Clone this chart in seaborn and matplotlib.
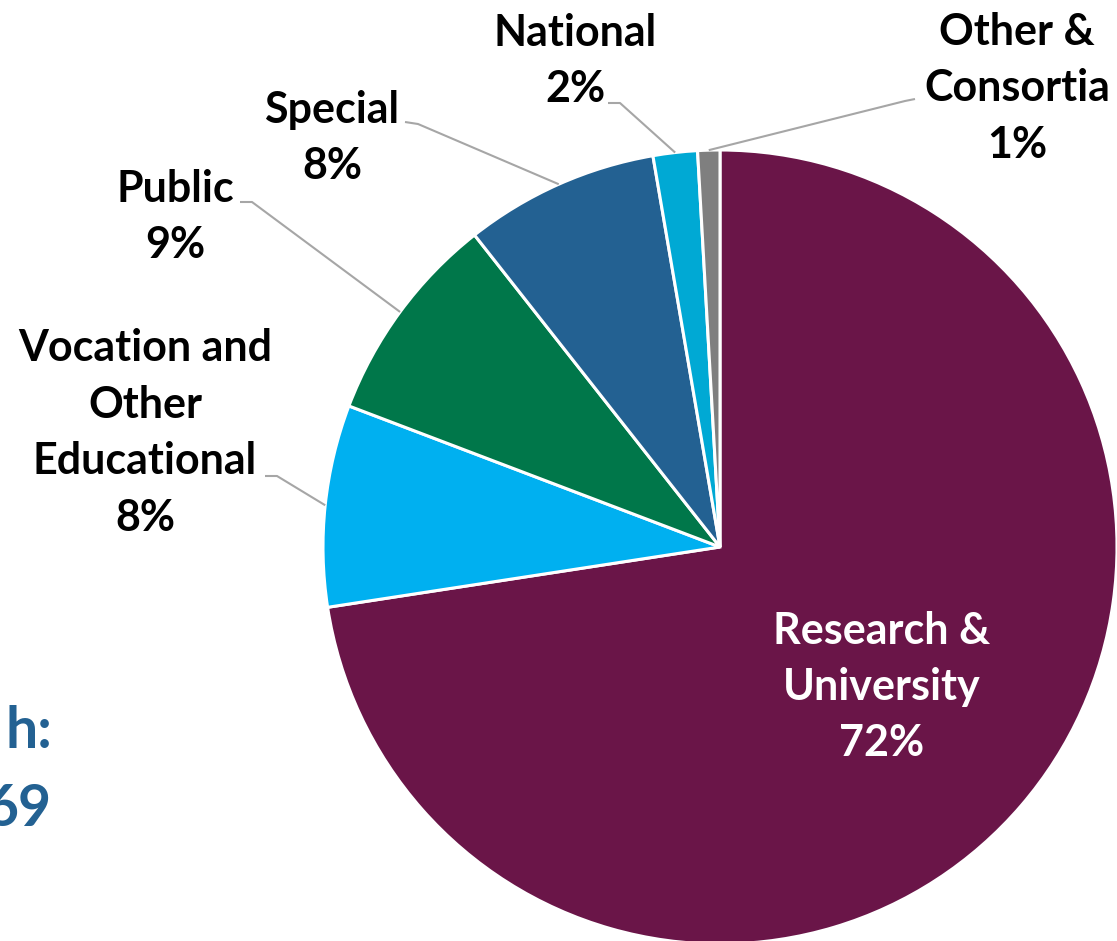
import numpy as np
import matplotlib
matplotlib.use("Agg")
import matplotlib.pyplot as plt
import seaborn as sns

sns.set_theme(style="white")
plt.rcParams["font.family"] = ["Lato", "DejaVu Sans"]

categories = ["Research &\nUniversity", "Vocation and\nOther\nEducational", "Public", "Special", "National", "Other &\nConsortia"]
shares = [72.5, 8.2, 8.6, 7.9, 1.8, 0.9]
pct_labels = ["72%", "8%", "9%", "8%", "2%", "1%"]
colors = ["#6A1548", "#00B0F0", "#00774A", "#236192", "#00A9D4", "#7F7F7F"]

W, H = 1117, 941
cx, cy, R = 720, 547, 397

fig = plt.figure(figsize=(W / 100, H / 100), dpi=100)
ax = fig.add_axes([0, 0, 1, 1])

wedges, _ = ax.pie(shares, colors=colors, startangle=90, counterclock=False,
                   radius=1.0, wedgeprops=dict(edgecolor="white", linewidth=2.2))

ax.set_aspect("auto")
ax.set_xlim(-cx / R, (W - cx) / R)
ax.set_ylim(-(H - cy) / R, cy / R)
ax.axis("off")


def px(x, y):
    return (x - cx) / R, (cy - y) / R


# label centre, leader elbow, leader end (pixels)
label_pos = [(882, 687), (145, 433), (175, 217), (332, 138), (575, 61), (1017, 88)]
leaders = [None, ((277, 476), (265, 476)), ((252, 202), (240, 202)),
           ((418, 124), (405, 122)), ((620, 103), (608, 103)), ((905, 101), (915, 99))]

for i, w in enumerate(wedges):
    txt = f"{categories[i]}\n{pct_labels[i]}"
    tx, ty = px(*label_pos[i])
    col = "white" if i == 0 else "black"
    ax.text(tx, ty, txt, ha="center", va="center", fontsize=31, fontweight="bold",
            color=col, linespacing=1.5)
    if leaders[i] is not None:
        ang = np.deg2rad((w.theta1 + w.theta2) / 2)
        sx, sy = np.cos(ang), np.sin(ang)
        ex, ey = px(*leaders[i][0])
        fx, fy = px(*leaders[i][1])
        ax.plot([sx, ex, fx], [sy, ey, fy], color="#A6A6A6", lw=1.5, solid_capstyle="butt")

# partially cropped total text on the left
ax.text(*px(52, 732), "h:", ha="right", va="center", fontsize=41, fontweight="bold", color="#236192")
ax.text(*px(52, 810), "69", ha="right", va="center", fontsize=41, fontweight="bold", color="#236192")

fig.savefig("out.png", dpi=100)
